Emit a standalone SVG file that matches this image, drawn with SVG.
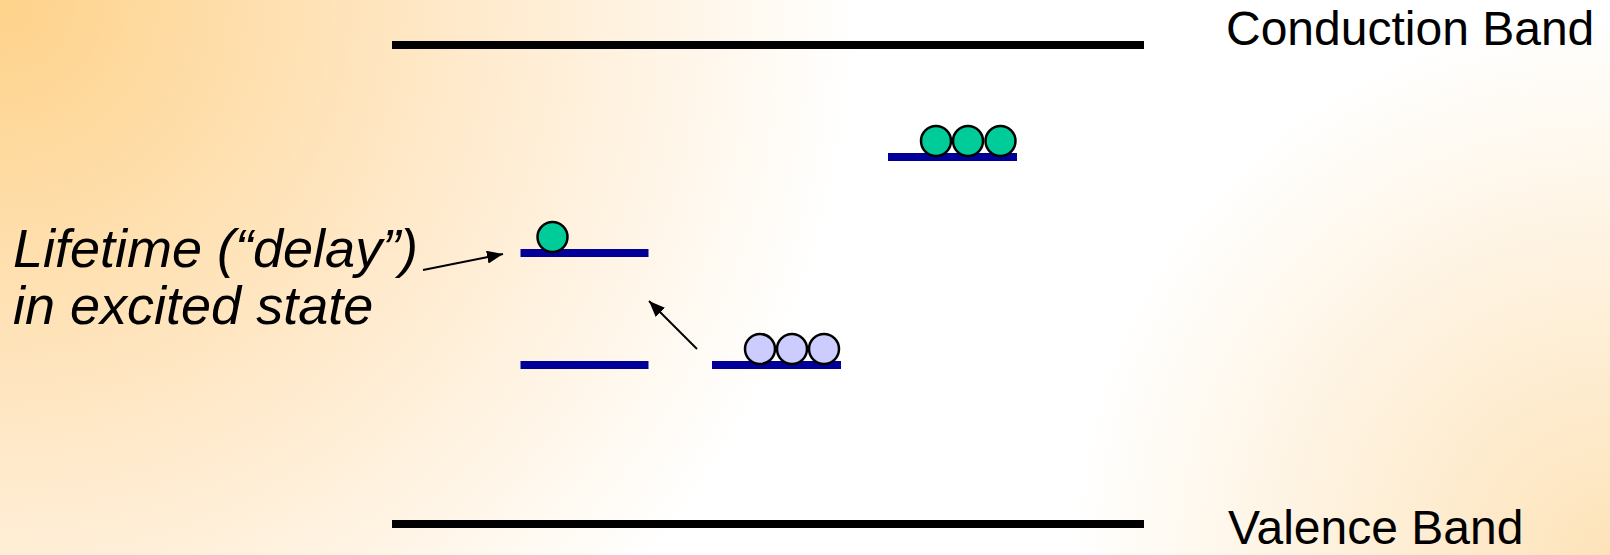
<svg xmlns="http://www.w3.org/2000/svg" width="1610" height="555" viewBox="0 0 1610 555">
<defs>
<radialGradient id="bg" cx="0" cy="0" r="1100" gradientUnits="userSpaceOnUse">
<stop offset="0" stop-color="#FED28A"/>
<stop offset="0.45" stop-color="#FFEBCF"/>
<stop offset="0.78" stop-color="#FFFFFF"/>
<stop offset="1" stop-color="#FFFFFF"/>
</radialGradient>
<radialGradient id="br" cx="1610" cy="555" r="540" gradientUnits="userSpaceOnUse">
<stop offset="0" stop-color="#FDDCA8" stop-opacity="0.8"/>
<stop offset="1" stop-color="#FDDCA8" stop-opacity="0"/>
</radialGradient>
<marker id="ah" markerWidth="16" markerHeight="13" refX="16" refY="6.5" orient="auto" markerUnits="userSpaceOnUse" viewBox="0 0 16 13">
<path d="M0,0 L16,6.5 L0,13 Z" fill="#000"/>
</marker>
<style>
.band{stroke:#000;stroke-width:8}
.lvl{stroke:#000099;stroke-width:8}
.g{fill:#00CC99;stroke:#000;stroke-width:2.5}
.p{fill:#CCCCFF;stroke:#000;stroke-width:2.5}
.lab{font-family:"Liberation Sans",Arial,sans-serif;font-size:48px;fill:#000}
.it{font-family:"Liberation Sans",Arial,sans-serif;font-size:54px;font-style:italic;fill:#000}
.con{stroke:#000;stroke-width:2;fill:none}
</style>
</defs>
<rect width="1610" height="555" fill="url(#bg)"/>
<rect width="1610" height="555" fill="url(#br)"/>
<g id="conduction"><line class="band" x1="392" y1="45" x2="1144" y2="45"/><text class="lab" x="1226" y="45">Conduction Band</text></g>
<g id="valence"><line class="band" x1="392" y1="524" x2="1144" y2="524"/><text class="lab" x="1228" y="544">Valence Band</text></g>
<g id="level-high"><line class="lvl" x1="888" y1="157" x2="1017" y2="157"/><circle class="g" cx="936" cy="141" r="15"/><circle class="g" cx="968" cy="141" r="15"/><circle class="g" cx="1000.5" cy="141" r="15"/></g>
<g id="level-excited"><line class="lvl" x1="520.5" y1="253" x2="648.5" y2="253"/><circle class="g" cx="552.5" cy="237" r="15"/></g>
<g id="level-ground"><line class="lvl" x1="520.5" y1="365" x2="648.5" y2="365"/></g>
<g id="level-donor"><line class="lvl" x1="712" y1="365" x2="841" y2="365"/><circle class="p" cx="760" cy="349" r="15"/><circle class="p" cx="792" cy="349" r="15"/><circle class="p" cx="824" cy="349" r="15"/></g>
<g id="label"><text class="it" x="13" y="267">Lifetime (“delay”)</text><text class="it" x="13" y="324">in excited state</text></g>
<g id="connectors">
<line class="con" x1="423" y1="270" x2="503" y2="254" marker-end="url(#ah)"/>
<line class="con" x1="697" y1="349" x2="649" y2="301" marker-end="url(#ah)"/>
</g>
</svg>
